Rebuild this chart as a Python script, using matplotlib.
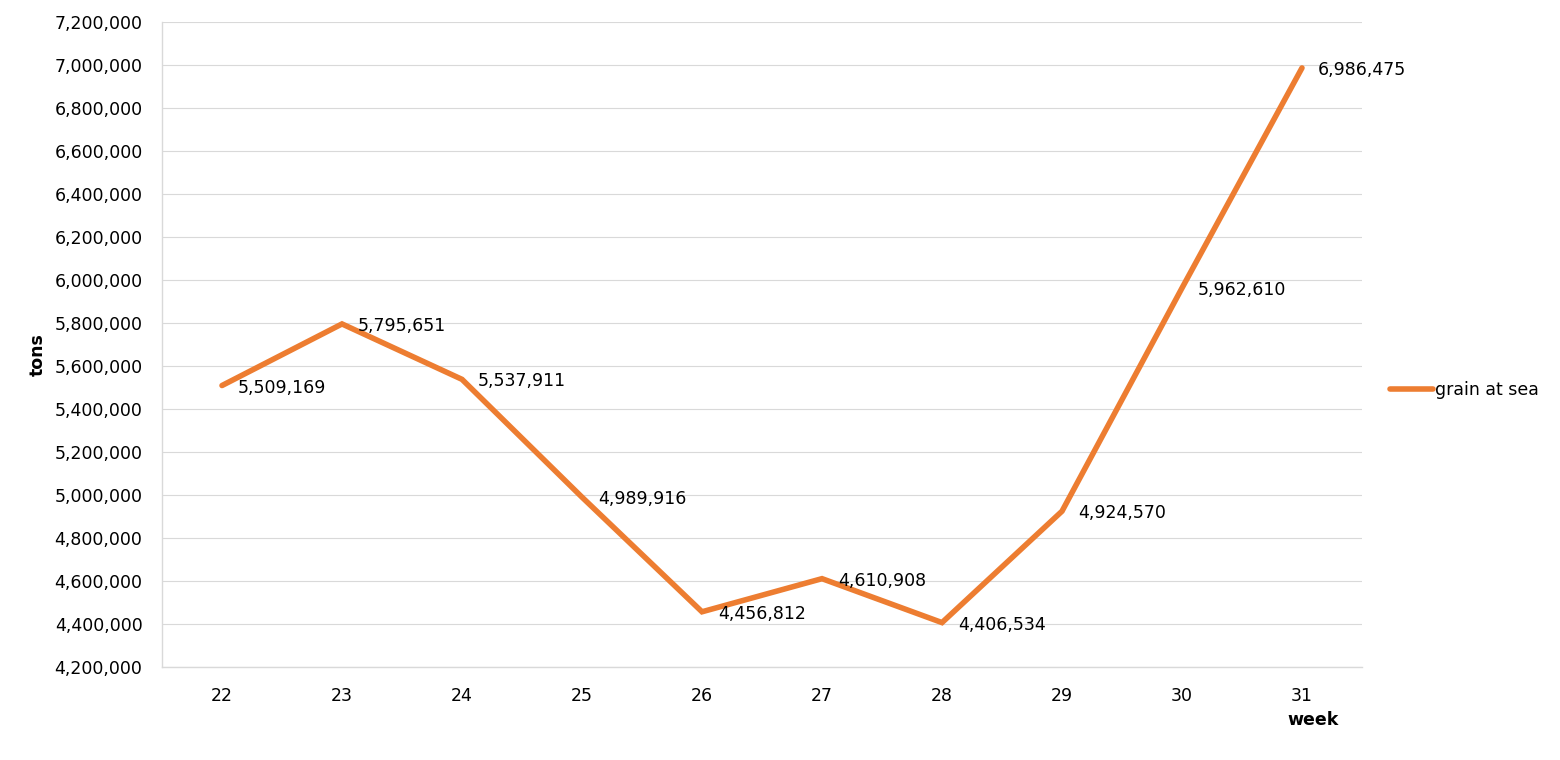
import matplotlib
matplotlib.use('Agg')
import matplotlib.pyplot as plt
from matplotlib.ticker import FuncFormatter, MultipleLocator

# Data
weeks = ['22', '23', '24', '25', '26', '27', '28', '29', '30', '31']
grain_at_sea = [5509169, 5795651, 5537911, 4989916, 4456812,
                4610908, 4406534, 4924570, 5962610, 6986475]

plt.rcParams['font.family'] = ['DejaVu Sans']
font_size = 12.5
grid_color = '#d9d9d9'
line_color = '#ed7d31'

# Plot
fig = plt.figure(figsize=(15.6, 7.6), dpi=100)
ax = fig.add_axes([162 / 1560, 1 - 667 / 760, 1200 / 1560, 645 / 760])

x = list(range(len(weeks)))
ax.plot(x, grain_at_sea, color=line_color, linewidth=4.0,
        solid_capstyle='round', solid_joinstyle='miter', label='grain at sea', zorder=3)

# Data labels to the right of each point
for xi, yi in zip(x, grain_at_sea):
    ax.annotate(f'{yi:,}', (xi, yi), xytext=(11.5, -1.5), textcoords='offset points',
                ha='left', va='center', fontsize=font_size, color='black', zorder=4)

ax.set_xlim(-0.5, len(weeks) - 0.5)
ax.set_ylim(4200000, 7200000)
ax.set_xticks(x)
ax.set_xticklabels(weeks)
ax.yaxis.set_major_locator(MultipleLocator(200000))
ax.yaxis.set_major_formatter(FuncFormatter(lambda v, p: f'{int(v):,}'))

ax.grid(axis='y', color=grid_color, linewidth=0.8)
ax.set_axisbelow(True)
for side in ['top', 'right']:
    ax.spines[side].set_visible(False)
for side in ['left', 'bottom']:
    ax.spines[side].set_color(grid_color)
    ax.spines[side].set_linewidth(1.0)

ax.tick_params(axis='y', length=0, pad=14, labelsize=font_size)
ax.tick_params(axis='x', length=0, pad=14.5, labelsize=font_size)

# Axis titles
fig.text(38 / 1560, 1 - 355 / 760, 'tons', rotation=90, ha='center', va='center',
         fontsize=font_size, fontweight='bold')
fig.text(1313 / 1560, 1 - 720 / 760, 'week', ha='center', va='center',
         fontsize=font_size, fontweight='bold')

# Legend
fig.legend(loc='center left', bbox_to_anchor=(1390 / 1560, 1 - 390 / 760),
           frameon=False, fontsize=font_size, handlelength=2.5, handletextpad=0.1,
           borderpad=0, borderaxespad=0)

plt.savefig('out.png', dpi=100)
plt.close()
